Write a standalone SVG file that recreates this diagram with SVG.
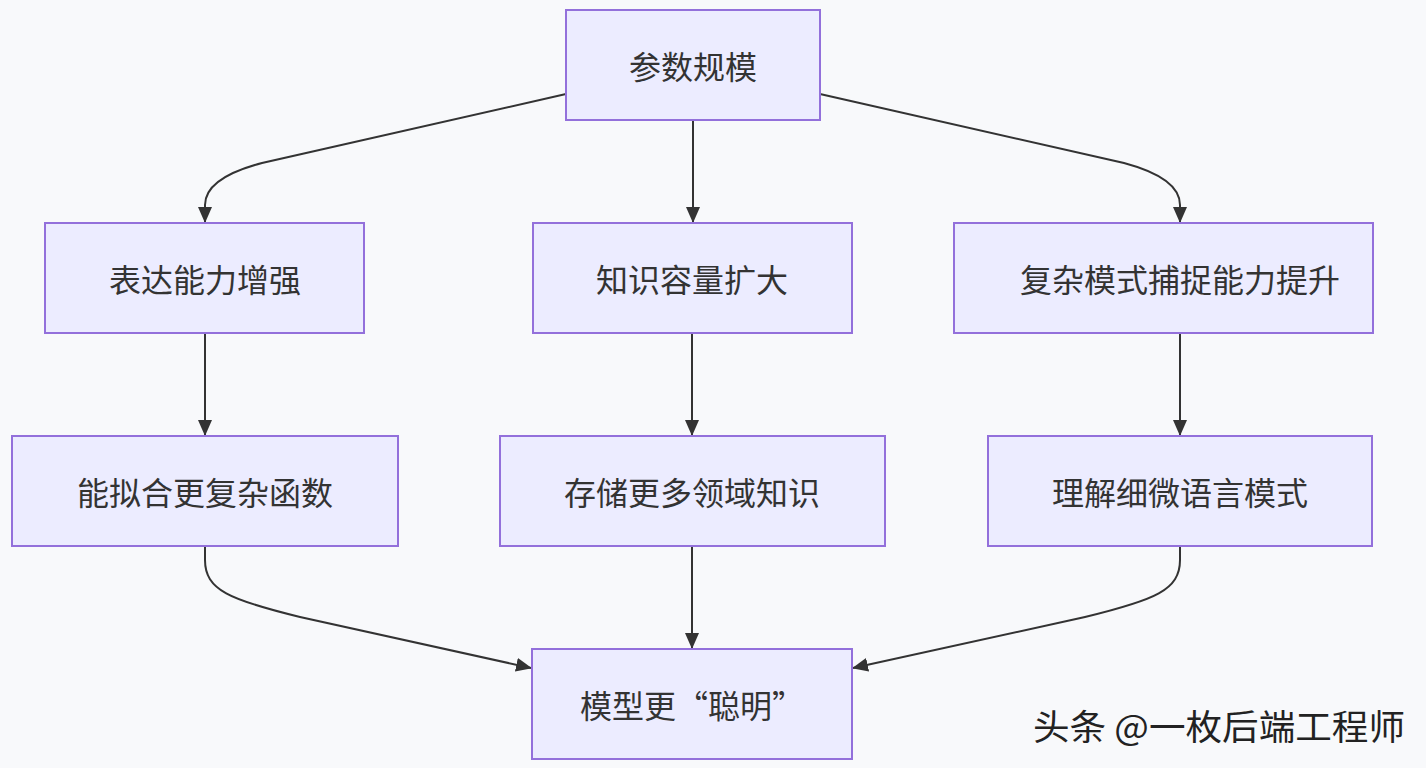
<svg xmlns="http://www.w3.org/2000/svg" width="1426" height="768" viewBox="0 0 1426 768">
<style>
.n rect{fill:#ECECFF;stroke:#9370DB;stroke-width:2}
.n text{font-family:"Noto Sans CJK SC","Noto Sans",sans-serif;font-size:32px;fill:#333;text-anchor:middle;dominant-baseline:central}
#edges path{fill:none;stroke:#333;stroke-width:2;marker-end:url(#arr)}
.wm{font-family:"Noto Sans CJK SC",sans-serif;font-size:35px;fill:#222}
</style>
<defs>
<marker id="arr" viewBox="0 0 16 14" refX="15" refY="7" markerWidth="16" markerHeight="14" markerUnits="userSpaceOnUse" orient="auto">
<path d="M0,0 L16,7 L0,14 z" fill="#333"/>
</marker>
</defs>
<rect width="1426" height="768" fill="#f8f9fb"/>
<g id="edges">
<path d="M566,94 L262,163 Q205,178 205,205 L205,222"/>
<path d="M693,120 L693,222"/>
<path d="M820,94 L1124,163 Q1180,178 1180,205 L1180,222"/>
<path d="M205,333 L205,435"/>
<path d="M692,333 L692,435"/>
<path d="M1180,333 L1180,435"/>
<path d="M205,547 L205,560 C205,590 230,600 300,617 L531,668"/>
<path d="M692,547 L692,648"/>
<path d="M1180,547 L1180,560 C1180,590 1155,600 1085,617 L853,668"/>
</g>
<g id="n1" class="n"><rect x="566" y="10" width="254" height="110"/><text x="693" y="65">参数规模</text></g>
<g id="n2" class="n"><rect x="45" y="223" width="319" height="110"/><text x="205" y="278">表达能力增强</text></g>
<g id="n3" class="n"><rect x="533" y="223" width="319" height="110"/><text x="692" y="278">知识容量扩大</text></g>
<g id="n4" class="n"><rect x="954" y="223" width="419" height="110"/><text x="1180" y="278">复杂模式捕捉能力提升</text></g>
<g id="n5" class="n"><rect x="12" y="436" width="386" height="110"/><text x="205" y="491">能拟合更复杂函数</text></g>
<g id="n6" class="n"><rect x="500" y="436" width="385" height="110"/><text x="692" y="491">存储更多领域知识</text></g>
<g id="n7" class="n"><rect x="988" y="436" width="384" height="110"/><text x="1180" y="491">理解细微语言模式</text></g>
<g id="n8" class="n"><rect x="532" y="649" width="320" height="110"/><text x="692" y="704">模型更“聪明”</text></g>
<text class="wm" x="1033" y="740" textLength="372" lengthAdjust="spacingAndGlyphs">头条 @一枚后端工程师</text>
</svg>
